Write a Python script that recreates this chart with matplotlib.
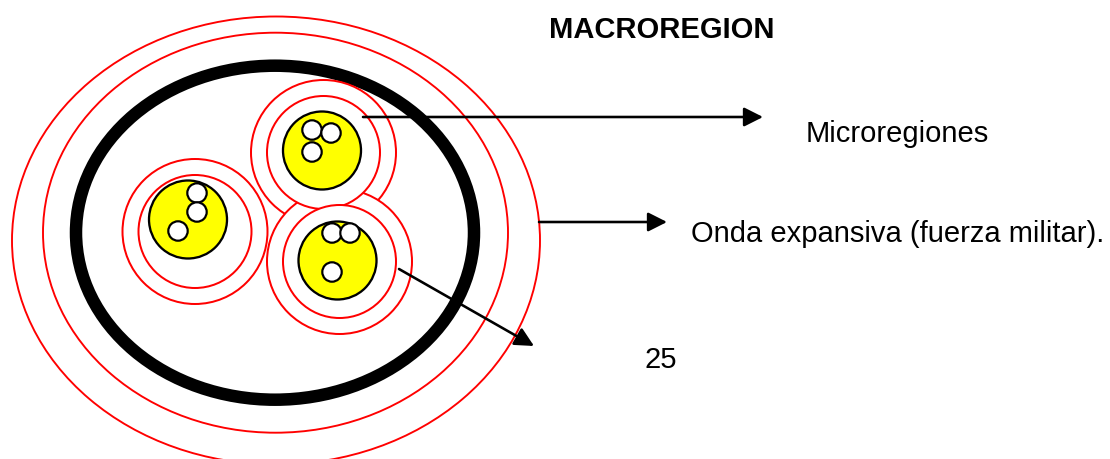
import matplotlib
matplotlib.use("Agg")
import matplotlib.pyplot as plt
from matplotlib.patches import Ellipse, Circle

# Grandes elipses (centro x, centro y, semi eje x, semi eje y) en pixeles
ondas_centros = [(276, 240.5), (275.5, 232.7)]
ondas_semiejes = [(264, 224), (232.5, 200)]
macro_centro = (275, 232.7)
macro_semiejes = (199, 167)

# Microregiones: anillos, nucleo amarillo y puntos blancos
anillos_centros = [(323.5, 152.5), (195, 231.5), (339.5, 261.5)]
anillos_radios = [72.5, 56.5]
nucleos_centros = [(322, 150.5), (188, 219.5), (337.5, 260.5)]
nucleos_radio = 39
puntos = [
    [(312, 130), (331, 133), (312, 152)],
    [(197, 193), (197, 212), (178, 231)],
    [(332, 233), (350, 233), (332, 272)],
]
puntos_radio = 9.7

# Flechas (inicio, punta)
flechas = [((363, 117), (763, 117)), ((539, 222), (667, 222)), ((399, 269), (534, 346))]

# Textos (x, linea base, texto, negrita)
textos = [
    (549, 38.5, "MACROREGION", True),
    (806, 142, "Microregiones", False),
    (691, 241.5, "Onda expansiva (fuerza militar).", False),
    (645, 368, "25", False),
]

px = 0.72  # pixeles -> puntos a 100 dpi

fig = plt.figure(figsize=(11.1, 4.59), dpi=100)
ax = fig.add_axes([0, 0, 1, 1])
ax.set_xlim(0, 1110)
ax.set_ylim(459, 0)
ax.axis("off")

for (cx, cy), (a, b) in zip(ondas_centros, ondas_semiejes):
    ax.add_patch(Ellipse((cx, cy), 2 * a, 2 * b, fill=False, ec="#ff0000", lw=1.9 * px))

ax.add_patch(Ellipse(macro_centro, 2 * macro_semiejes[0], 2 * macro_semiejes[1],
                     fill=False, ec="black", lw=12.5 * px))

# primero todos los anillos externos, luego los internos (se tapan entre si)
for r in anillos_radios:
    for c in anillos_centros:
        ax.add_patch(Circle(c, r, fc="white", ec="#ff0000", lw=2 * px))

for c, grupo in zip(nucleos_centros, puntos):
    ax.add_patch(Circle(c, nucleos_radio, fc="#ffff00", ec="black", lw=2.3 * px))
    for p in grupo:
        ax.add_patch(Circle(p, puntos_radio, fc="white", ec="black", lw=2.2 * px))

for inicio, punta in flechas:
    ax.annotate("", xy=punta, xytext=inicio,
                arrowprops=dict(arrowstyle="-|>,head_length=11.5,head_width=5.8",
                                mutation_scale=1, lw=2.6 * px, color="black",
                                shrinkA=0, shrinkB=0))

for x, y, t, negrita in textos:
    ax.text(x, y, t, fontsize=21, family="Liberation Sans", va="baseline", ha="left",
            fontweight="bold" if negrita else "normal", color="black")

fig.savefig("out.png", dpi=100)
